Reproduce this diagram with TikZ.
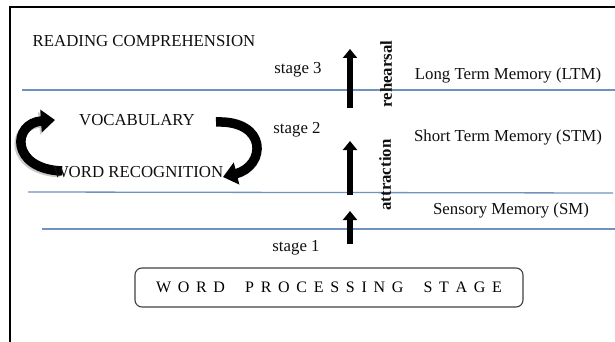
\documentclass[tikz,border=0pt]{standalone}
\usepackage{fontspec}
\setmainfont{Liberation Serif}
\usetikzlibrary{arrows.meta}
\definecolor{lineblue}{RGB}{112,146,190}
\definecolor{txt}{RGB}{15,15,15}
\begin{document}
\begin{tikzpicture}[x=1pt,y=-1pt,
  lbl/.style={font=\fontsize{16.8}{18}\selectfont, text=txt, inner sep=0pt},
  blbl/.style={font=\fontsize{16.8}{18}\selectfont\bfseries, text=txt, inner sep=0pt, rotate=90},
  layer/.style={draw=lineblue, line width=1.6pt},
  uparrow/.style={line width=6.5pt, -{Triangle[width=14pt,length=9pt]}},
  bendarrow/.style={line width=9.5pt, -{Triangle[width=22pt,length=14pt]}},
  shadowarrow/.style={line width=9pt, black!35, opacity=0.6, -{Triangle[width=22pt,length=14pt]}},
  procbox/.style={draw=black!75, line width=1.1pt, rounded corners=7pt, minimum width=388pt, minimum height=39pt, inner sep=0pt}
]
\useasboundingbox (0,0) rectangle (615,342);
% frame
\coordinate (fTL) at (10,7);
\coordinate (fTR) at (615,7);
\coordinate (fBL) at (10,342);
\draw[line width=2pt] (fBL) -- (fTL) -- (fTR);

% layer lines
\coordinate (l1a) at (22,90);  \coordinate (l1b) at (615,90);
\coordinate (l2a) at (28,192); \coordinate (l2b) at (613,193);
\coordinate (l3a) at (42,229); \coordinate (l3b) at (615,229);
\draw[layer] (l1a) -- (l1b);
\draw[layer, line width=1.3pt] (l2a) -- (l2b);
\draw[layer, line width=1.3pt] (l3a) -- (l3b);

% texts
\node[lbl] (rc) at (144,41) {READING COMPREHENSION};
\node[lbl] (s3) at (298,70) {stage 3};
\node[lbl] (s2) at (297,130) {stage 2};
\node[lbl] (s1) at (296,248) {stage 1};
\node[lbl] (ltm) at (508,75) {Long Term Memory (LTM)};
\node[lbl] (stm) at (508,137) {Short Term Memory (STM)};
\node[lbl] (sm) at (511,210) {Sensory Memory (SM)};
\node[lbl] (voc) at (137,120) {VOCABULARY};
\node[blbl] (reh) at (386,74) {rehearsal};
\node[blbl] (att) at (385,175) {attraction};

% vertical arrows
\coordinate (a1s) at (350,108); \coordinate (a1e) at (350,49);
\coordinate (a2s) at (350,195); \coordinate (a2e) at (350,141);
\coordinate (a3s) at (350,244); \coordinate (a3e) at (350,211);
\draw[uparrow] (a1s) -- (a1e);
\draw[uparrow] (a2s) -- (a2e);
\draw[uparrow] (a3s) -- (a3e);

% curved arrows
\coordinate (la) at (62,171); \coordinate (lb) at (55,120);
\coordinate (ra) at (216,122); \coordinate (rb) at (223,177);
\draw[shadowarrow] ([shift={(-2,2)}]la) .. controls (8,170) and (10,126) .. ([shift={(-2,2)}]lb);
\draw[bendarrow] (la) .. controls (10,169) and (12,123) .. (lb);
\draw[bendarrow] (ra) .. controls (268,120) and (266,166) .. (rb);
\node[lbl] (wr) at (138,172) {WORD RECOGNITION};

% process box
\node[procbox] (wps) at (329,287.5) {\fontsize{16}{18}\selectfont\makebox[346pt][s]{W\hfill O\hfill R\hfill D\hfill\hfill\hfill P\hfill R\hfill O\hfill C\hfill E\hfill S\hfill S\hfill I\hfill N\hfill G\hfill\hfill\hfill S\hfill T\hfill A\hfill G\hfill E}};
\end{tikzpicture}
\end{document}
